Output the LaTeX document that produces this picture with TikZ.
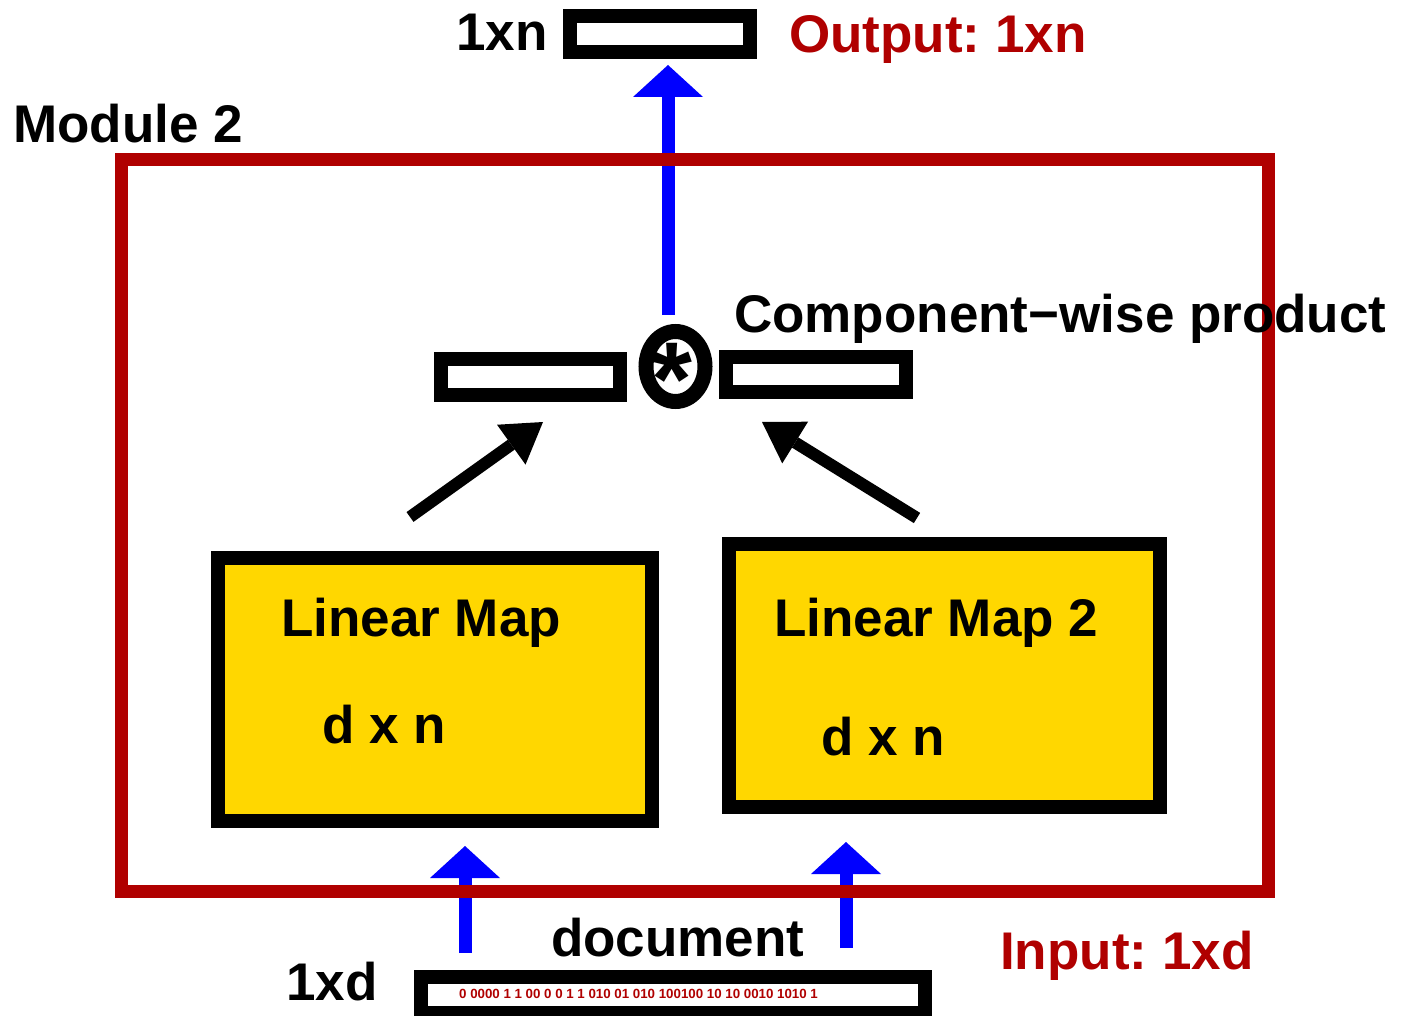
\documentclass[tikz,border=0pt]{standalone}
\usepackage{fontspec}
\setmainfont{Liberation Sans}
\usetikzlibrary{arrows.meta,shapes.geometric}
\definecolor{mred}{HTML}{B00000}
\definecolor{mgold}{HTML}{FFD700}
\definecolor{mblue}{HTML}{0000FF}
\frenchspacing
\begin{document}
\begin{tikzpicture}[x=1pt,y=-1pt,
  lbl/.style={font=\fontsize{53}{53}\selectfont\bfseries, inner sep=0pt, anchor=base west},
  redlbl/.style={lbl, text=mred},
  mapbox/.style={draw=black, fill=mgold, line width=14pt, inner sep=0pt},
  vecbox/.style={draw=black, fill=white, line width=14pt, inner sep=0pt},
  modbox/.style={draw=mred, line width=13pt, inner sep=0pt},
  ring/.style={draw=black, ellipse, line width=15pt, inner sep=0pt},
  bluearr/.style={draw=mblue, line width=13pt, -{Triangle[length=32pt,width=70pt,line width=0pt]}},
  blackarr/.style={draw=black, line width=12pt, -{Triangle[length=39pt,width=49pt,line width=0pt]}},
]
\useasboundingbox (0,0) rectangle (1401,1016);

% vectors and maps
\node[vecbox, minimum width=179.5pt, minimum height=35.5pt] (out) at (659.75,34.25) {};
\node[vecbox, minimum width=179.5pt, minimum height=36pt] (vl) at (530.25,377) {};
\node[vecbox, minimum width=179.5pt, minimum height=35pt] (vr) at (815.75,374.5) {};
\node[vecbox, minimum width=504pt, minimum height=36pt] (doc) at (673,995) {};
\node[mapbox, minimum width=434pt, minimum height=263pt] (lm1) at (435,689.5) {};
\node[mapbox, minimum width=431pt, minimum height=263.5pt] (lm2) at (944.5,675.25) {};

% product operator
\node[ring, minimum width=59pt, minimum height=70pt] (prod) at (675.5,366.5) {};
\node[inner sep=0pt, anchor=north, font=\fontsize{105}{105}\selectfont\bfseries] (star) at (672,343) {*};

% connectors
\coordinate (xtop) at (668,0);
\coordinate (xbl) at (465,0);
\coordinate (xbr) at (846,0);
\draw[bluearr, shorten <=9pt, shorten >=6pt] (prod.north -| xtop) -- (out.south -| xtop);
\draw[bluearr, shorten <=17pt, shorten >=18pt] (doc.north -| xbl) -- (lm1.south -| xbl);
\draw[bluearr, shorten <=22pt, shorten >=28pt] (doc.north -| xbr) -- (lm2.south -| xbr);

\coordinate (la0) at (410,517);
\coordinate (la1) at (543,422);
\coordinate (ra0) at (917,518);
\coordinate (ra1) at (762,422);
\draw[blackarr] (la0) -- (la1);
\draw[blackarr] (ra0) -- (ra1);

% module frame
\node[modbox, minimum width=1147pt, minimum height=731pt] (mod) at (694.5,525.5) {};

% labels
\node[lbl] (t1xn) at (456,51) {1xn};
\node[redlbl] (tout) at (789,53) {Output: 1xn};
\node[lbl] (tmod) at (13,143) {Module 2};
\node[lbl] (tcomp) at (734,333) {Component−wise product};
\node[lbl] (tlm1) at (281,636) {Linear Map};
\node[lbl] (tdxn1) at (322,743) {d x n};
\node[lbl] (tlm2) at (774,636) {Linear Map 2};
\node[lbl] (tdxn2) at (821,755) {d x n};
\node[lbl] (tdoc) at (551,956) {document};
\node[lbl] (t1xd) at (286,1000) {1xd};
\node[redlbl] (tin) at (1000,969) {Input: 1xd};
\node[inner sep=0pt, anchor=base west, font=\fontsize{13.3}{13.3}\selectfont\bfseries, text=mred] (bits) at (459,998) {0 0000 1 1 00 0 0 1 1 010 01 010 100100 10 10 0010 1010 1};
\end{tikzpicture}
\end{document}
